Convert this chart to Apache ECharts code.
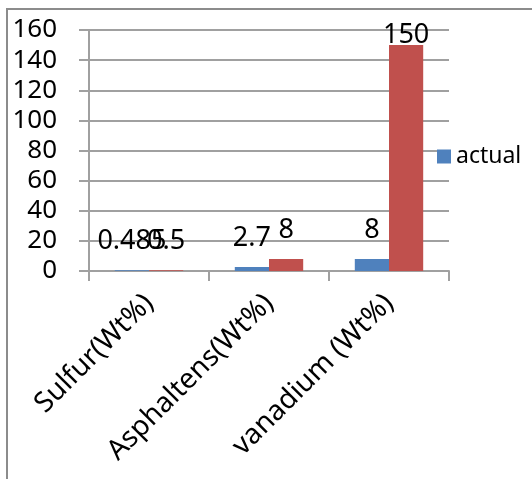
<!DOCTYPE html>
<html>
<head>
<meta charset="utf-8">
<script src="https://cdn.jsdelivr.net/npm/echarts@6/dist/echarts.min.js"></script>
<style>
html,body{margin:0;padding:0;background:#fff;}
#c{width:532px;height:479px;}
</style>
</head>
<body>
<div id="c"></div>
<script>
var categories = ['Sulfur(Wt%)', 'Asphaltens(Wt%)', 'vanadium (Wt%)'];
var actualValues = [0.485, 2.7, 8];
var secondValues = [0.5, 8, 150];
var yTicks = [0, 20, 40, 60, 80, 100, 120, 140, 160];

var FONT = 'Noto Sans';
var chart = echarts.init(document.getElementById('c'), null, {renderer: 'canvas'});

function labelled(vals, distances) {
  return vals.map(function (v, i) {
    return {value: v, label: {distance: distances[i]}};
  });
}

chart.setOption({
  animation: false,
  textStyle: {fontFamily: FONT},
  graphic: [{
    type: 'rect',
    shape: {x: 7, y: 9, width: 700, height: 700},
    style: {fill: 'none', stroke: '#8c8c8c', lineWidth: 2}
  }],
  grid: {left: 89, right: 83, top: 30, bottom: 208, containLabel: false},
  legend: {
    data: ['actual'],
    left: 432, top: 140,
    orient: 'vertical',
    icon: 'rect', itemWidth: 14, itemHeight: 14, itemGap: 7,
    textStyle: {fontFamily: FONT, fontSize: 23, color: '#000'}
  },
  xAxis: {
    type: 'category',
    data: categories,
    boundaryGap: true,
    axisLine: {lineStyle: {color: '#a0a0a0', width: 2}},
    axisTick: {show: true, length: 10, lineStyle: {color: '#a0a0a0', width: 2}},
    axisLabel: {rotate: 45, margin: 28, fontFamily: FONT, fontSize: 28, color: '#000', interval: 0}
  },
  yAxis: {
    type: 'value',
    min: yTicks[0], max: yTicks[yTicks.length - 1], interval: yTicks[1] - yTicks[0],
    axisLine: {show: true, lineStyle: {color: '#a0a0a0', width: 2}},
    axisTick: {show: true, length: 10, lineStyle: {color: '#a0a0a0', width: 2}},
    splitLine: {lineStyle: {color: '#a0a0a0', width: 2}},
    axisLabel: {margin: 32, fontFamily: FONT, fontSize: 26, color: '#000'}
  },
  series: [{
    name: 'actual',
    type: 'bar',
    data: labelled(actualValues, [15, 15, 15]),
    barGap: '0%',
    barCategoryGap: '43%',
    itemStyle: {color: '#4F81BD'},
    label: {show: true, position: 'top', fontFamily: FONT, fontSize: 27, color: '#000'}
  }, {
    name: 'second',
    type: 'bar',
    data: labelled(secondValues, [15, 15, -4]),
    itemStyle: {color: '#C0504D'},
    label: {show: true, position: 'top', fontFamily: FONT, fontSize: 27, color: '#000'}
  }]
});
</script>
</body>
</html>
